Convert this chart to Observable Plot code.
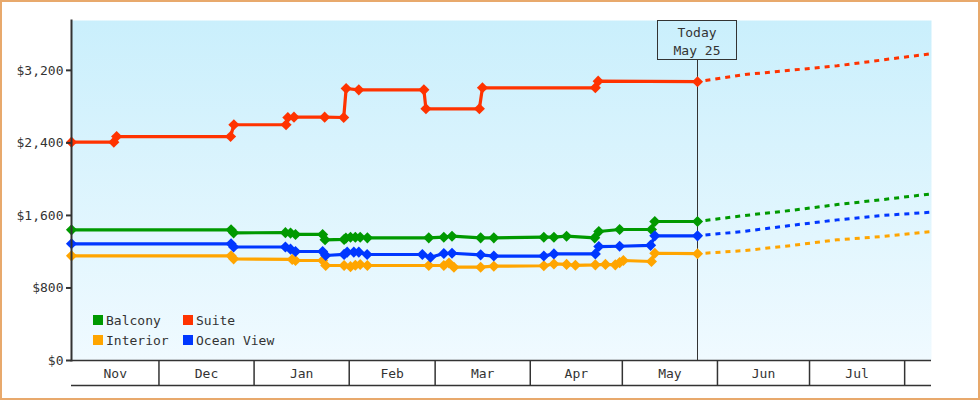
<!DOCTYPE html>
<html>
<head>
<meta charset="utf-8">
<script src="https://cdn.jsdelivr.net/npm/d3@7"></script>
<script src="https://cdn.jsdelivr.net/npm/@observablehq/plot@0.6"></script>
<style>
  body { margin: 0; background: #fff; }
  #wrap { position: relative; width: 980px; height: 400px; overflow: hidden; font-family: "DejaVu Sans Mono", monospace; color: #333; }
  #border { position: absolute; left: 0; top: 0; width: 980px; height: 400px; box-sizing: border-box; border: 2px solid #e8a96c; pointer-events: none; }
  #legend { position: absolute; left: 93px; top: 310px; display: grid; grid-template-columns: 90px 120px; grid-auto-rows: 20px; font-size: 13px; }
  .item { display: flex; align-items: center; white-space: pre; }
  .sw { width: 10px; height: 10px; margin-right: 3px; }
  #today { position: absolute; top: 20px; width: 80px; height: 40px; box-sizing: border-box; border: 1px solid #333; text-align: center; font-size: 13px; line-height: 18px; padding-top: 3px; }
</style>
</head>
<body>
<div id="wrap"></div>
<script>
// ---------- data ----------
const seriesNames = ["Balcony", "Suite", "Interior", "Ocean View"];
const seriesColors = ["#009900", "#ff3300", "#ffa500", "#0037ff"];

const balcony = [
  ["2018-11-02T12:00", 1441], ["2018-12-24T12:00", 1441], ["2018-12-25T08:00", 1408],
  ["2019-01-11T05:00", 1410], ["2019-01-12T21:00", 1405], ["2019-01-14T12:00", 1390],
  ["2019-01-23T08:00", 1390], ["2019-01-24T03:00", 1331], ["2019-01-30T08:00", 1335],
  ["2019-01-30T22:00", 1350], ["2019-02-01T10:00", 1360], ["2019-02-03T00:00", 1360],
  ["2019-02-04T14:00", 1360], ["2019-02-06T22:00", 1353], ["2019-02-26T22:00", 1353],
  ["2019-03-03T20:00", 1360], ["2019-03-06T12:00", 1371], ["2019-03-15T20:00", 1353],
  ["2019-03-20T03:00", 1353], ["2019-04-05T10:00", 1360], ["2019-04-08T17:00", 1360],
  ["2019-04-12T20:00", 1371], ["2019-04-22T00:00", 1353], ["2019-04-23T08:00", 1423],
  ["2019-04-30T03:00", 1445], ["2019-05-10T12:00", 1445], ["2019-05-11T14:00", 1533],
  ["2019-05-25T12:00", 1533]
];
const suite = [
  ["2018-11-02T12:00", 2408], ["2018-11-16T07:00", 2408], ["2018-11-17T05:00", 2470],
  ["2018-12-24T08:00", 2470], ["2018-12-25T10:00", 2600], ["2019-01-11T10:00", 2600],
  ["2019-01-12T00:00", 2680], ["2019-01-14T00:00", 2684], ["2019-01-24T00:00", 2684],
  ["2019-01-30T05:00", 2680], ["2019-01-31T00:00", 3000], ["2019-02-04T03:00", 2985],
  ["2019-02-25T08:00", 2985], ["2019-02-26T00:00", 2776], ["2019-03-15T10:00", 2776],
  ["2019-03-16T10:00", 3008], ["2019-04-22T05:00", 3008], ["2019-04-23T03:00", 3081],
  ["2019-05-25T12:00", 3075]
];
const interior = [
  ["2018-11-02T12:00", 1154], ["2018-12-24T12:00", 1154], ["2018-12-25T08:00", 1121],
  ["2019-01-13T10:00", 1115], ["2019-01-14T12:00", 1103], ["2019-01-23T08:00", 1103],
  ["2019-01-24T08:00", 1048], ["2019-01-30T08:00", 1048], ["2019-02-01T10:00", 1035],
  ["2019-02-03T00:00", 1050], ["2019-02-04T14:00", 1058], ["2019-02-06T22:00", 1048],
  ["2019-02-26T22:00", 1048], ["2019-03-03T20:00", 1048], ["2019-03-05T12:00", 1075],
  ["2019-03-07T03:00", 1029], ["2019-03-15T20:00", 1029], ["2019-03-20T03:00", 1040],
  ["2019-04-05T10:00", 1045], ["2019-04-08T17:00", 1065], ["2019-04-12T20:00", 1060],
  ["2019-04-15T17:00", 1050], ["2019-04-22T05:00", 1055], ["2019-04-25T12:00", 1060],
  ["2019-04-28T17:00", 1055], ["2019-04-30T03:00", 1080], ["2019-05-01T08:00", 1103],
  ["2019-05-10T12:00", 1092], ["2019-05-11T14:00", 1183], ["2019-05-25T12:00", 1178]
];
const oceanView = [
  ["2018-11-02T12:00", 1287], ["2018-12-24T12:00", 1287], ["2018-12-25T08:00", 1252],
  ["2019-01-11T05:00", 1252], ["2019-01-12T21:00", 1228], ["2019-01-14T12:00", 1202],
  ["2019-01-23T08:00", 1202], ["2019-01-24T08:00", 1158], ["2019-01-30T08:00", 1170],
  ["2019-01-31T08:00", 1195], ["2019-02-02T12:00", 1195], ["2019-02-04T03:00", 1195],
  ["2019-02-06T20:00", 1169], ["2019-02-24T20:00", 1169], ["2019-02-27T12:00", 1139],
  ["2019-03-03T20:00", 1180], ["2019-03-06T12:00", 1183], ["2019-03-15T20:00", 1165],
  ["2019-03-20T03:00", 1152], ["2019-04-05T10:00", 1152], ["2019-04-08T17:00", 1176],
  ["2019-04-22T05:00", 1176], ["2019-04-23T08:00", 1257], ["2019-04-30T03:00", 1260],
  ["2019-05-10T05:00", 1270], ["2019-05-11T14:00", 1375], ["2019-05-25T12:00", 1375]
];

const forecastDates = ["2019-05-25T12:00", "2019-06-10", "2019-06-25", "2019-07-10", "2019-07-25", "2019-08-09T18:00"];
const balconyForecast  = [1533, 1600, 1655, 1720, 1775, 1838];
const suiteForecast    = [3075, 3154, 3202, 3250, 3316, 3383];
const interiorForecast = [1178, 1213, 1268, 1331, 1368, 1423];
const oceanForecast    = [1375, 1426, 1490, 1551, 1600, 1636];

const todayDate = "2019-05-25T12:00";
const todayText = ["Today", "May 25"];

const monthLabels = ["Nov", "Dec", "Jan", "Feb", "Mar", "Apr", "May", "Jun", "Jul"];
const monthStarts = ["2018-11-01", "2018-12-01", "2019-01-01", "2019-02-01", "2019-03-01",
                     "2019-04-01", "2019-05-01", "2019-06-01", "2019-07-01", "2019-08-01"];
const xDomain = ["2018-11-02T12:00", "2019-08-09T18:00"];
const yTicks = [0, 800, 1600, 2400, 3200];
const yMax = 3750;

// ---------- build ----------
const parse = s => new Date(s.length === 10 ? s + "T00:00Z" : s + "Z");
const history = [balcony, suite, interior, oceanView];
const forecasts = [balconyForecast, suiteForecast, interiorForecast, oceanForecast];

const histRows = history.flatMap((arr, i) => arr.map(([d, v]) => ({series: seriesNames[i], date: parse(d), value: v})));
const foreRows = forecasts.flatMap((arr, i) => arr.map((v, j) => ({series: seriesNames[i], date: parse(forecastDates[j]), value: v})));

const x0 = parse(xDomain[0]), x1 = parse(xDomain[1]);
const bounds = monthStarts.map(parse);
const monthCells = monthLabels.map((label, i) => {
  const a = Math.max(+bounds[i], +x0), b = Math.min(+bounds[i + 1], +x1);
  return {label, mid: new Date((a + b) / 2)};
});
const separators = bounds.slice(1);

const defs = () => {
  const g = d3.create("svg:defs");
  const lg = g.append("linearGradient").attr("id", "bg").attr("x1", 0).attr("y1", 0).attr("x2", 0).attr("y2", 1);
  lg.append("stop").attr("offset", "0%").attr("stop-color", "#caeffc");
  lg.append("stop").attr("offset", "100%").attr("stop-color", "#f0faff");
  return g.node();
};

const today = parse(todayDate);

const chart = Plot.plot({
  width: 980,
  height: 400,
  marginLeft: 71,
  marginRight: 49,
  marginTop: 20,
  marginBottom: 40,
  style: {fontFamily: "DejaVu Sans Mono, monospace", fontSize: "13px", color: "#333", background: "transparent", overflow: "visible"},
  x: {type: "utc", domain: [x0, x1], axis: null},
  y: {domain: [0, yMax], axis: null},
  color: {domain: seriesNames, range: seriesColors},
  marks: [
    defs,
    Plot.frame({fill: "url(#bg)"}),
    Plot.ruleX([today], {stroke: "#333", strokeWidth: 1, insetTop: 40}),
    Plot.line(foreRows, {x: "date", y: "value", z: "series", stroke: "series", strokeWidth: 3, strokeDasharray: "5,5", strokeDashoffset: -8, strokeLinecap: "butt"}),
    Plot.line(histRows, {x: "date", y: "value", z: "series", stroke: "series", strokeWidth: 3.2}),
    Plot.dot(histRows, {x: "date", y: "value", fill: "series", symbol: "diamond2", r: 5}),
    Plot.axisY({ticks: yTicks, tickFormat: d3.format("$,"), tickSize: 5, tickPadding: 3, stroke: "#333", fill: "#333", strokeWidth: 2, fontSize: 13, label: null}),
    Plot.frame({anchor: "left", stroke: "#333", strokeWidth: 2}),
    Plot.ruleY([0], {stroke: "#333", strokeWidth: 1.5}),
    Plot.ruleY([0], {stroke: "#333", strokeWidth: 1.5, dy: 25}),
    Plot.axisX({ticks: separators, tickSize: 25, tickFormat: () => "", stroke: "#333", strokeWidth: 1.5, label: null}),
    Plot.text(monthCells, {x: "mid", text: "label", frameAnchor: "bottom", dy: 13, lineAnchor: "middle", fill: "#333", fontSize: 13})
  ]
});

const wrap = document.getElementById("wrap");
wrap.appendChild(chart);

// Today box, positioned via the plot's own x scale
const tx = chart.scale("x").apply(today);
const box = document.createElement("div");
box.id = "today";
box.style.left = (tx - 40) + "px";
box.innerHTML = todayText.join("<br>");
wrap.appendChild(box);

// Legend
const legend = document.createElement("div");
legend.id = "legend";
seriesNames.forEach((name, i) => {
  const it = document.createElement("div");
  it.className = "item";
  it.innerHTML = `<span class="sw" style="background:${seriesColors[i]}"></span>${name}`;
  legend.appendChild(it);
});
wrap.appendChild(legend);

const border = document.createElement("div");
border.id = "border";
wrap.appendChild(border);
</script>
</body>
</html>
